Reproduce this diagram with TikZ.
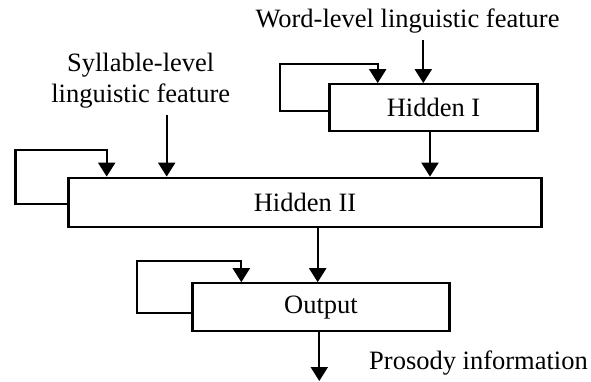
\documentclass[tikz,border=0pt]{standalone}
\usepackage{fontspec}
\setmainfont{Liberation Serif}
\usetikzlibrary{arrows.meta}
\begin{document}
\begin{tikzpicture}[x=1pt,y=-1pt,
  line width=2.2pt,
  every node/.style={font=\fontsize{26.5}{31}\selectfont, inner sep=0pt},
  layer/.style={draw, line width=2.2pt, minimum width=#1, minimum height=47pt},
  feed/.style={-{Triangle[width=17pt,length=14pt]}, line join=miter},
  lbl/.style={align=center}]
  \useasboundingbox (0,0) rectangle (591,381);

  % layers
  \node[layer=208pt] (hid1) at (433.5,107.7) {Hidden I};
  \node[layer=473pt, minimum height=49pt] (hid2) at (305,202.2) {Hidden II};
  \node[layer=257pt, minimum height=48pt] (out) at (321,307.3) {Output};

  % input / output labels
  \node[lbl] (word) at (407.5,21) {Word-level linguistic feature};
  \node[lbl] (syl) at (140.7,81) {Syllable-level\\linguistic feature};
  \node[lbl] (pros) at (478.5,363) {Prosody information};

  % loose ends of the external arrows
  \coordinate (wordsrc) at (423.3,40);
  \coordinate (sylsrc) at (166.7,115);
  \coordinate (prossink) at (319.3,381);

  % recurrent loop corners
  \coordinate (h1a) at (280,111);
  \coordinate (h1b) at (377.7,64.3);
  \coordinate (h2a) at (15.5,204.3);
  \coordinate (h2b) at (106.7,150);
  \coordinate (oa) at (136.7,312.7);
  \coordinate (ob) at (241.3,260.7);

  % feed-forward arrows
  \draw[feed] (wordsrc) -- (wordsrc |- hid1.north);
  \draw[feed] (sylsrc) -- (sylsrc |- hid2.north);
  \draw[feed] (hid1.south -| 430,0) -- (430,0 |- hid2.north);
  \draw[feed] (hid2.south -| 317.7,0) -- (317.7,0 |- out.north);
  \draw[feed] (out.south -| prossink) -- (prossink);

  % recurrent connections
  \draw[feed] (hid1.west |- h1a) -- (h1a) |- (h1b) -- (h1b |- hid1.north);
  \draw[feed] (hid2.west |- h2a) -- (h2a) |- (h2b) -- (h2b |- hid2.north);
  \draw[feed] (out.west |- oa) -- (oa) |- (ob) -- (ob |- out.north);
\end{tikzpicture}
\end{document}
